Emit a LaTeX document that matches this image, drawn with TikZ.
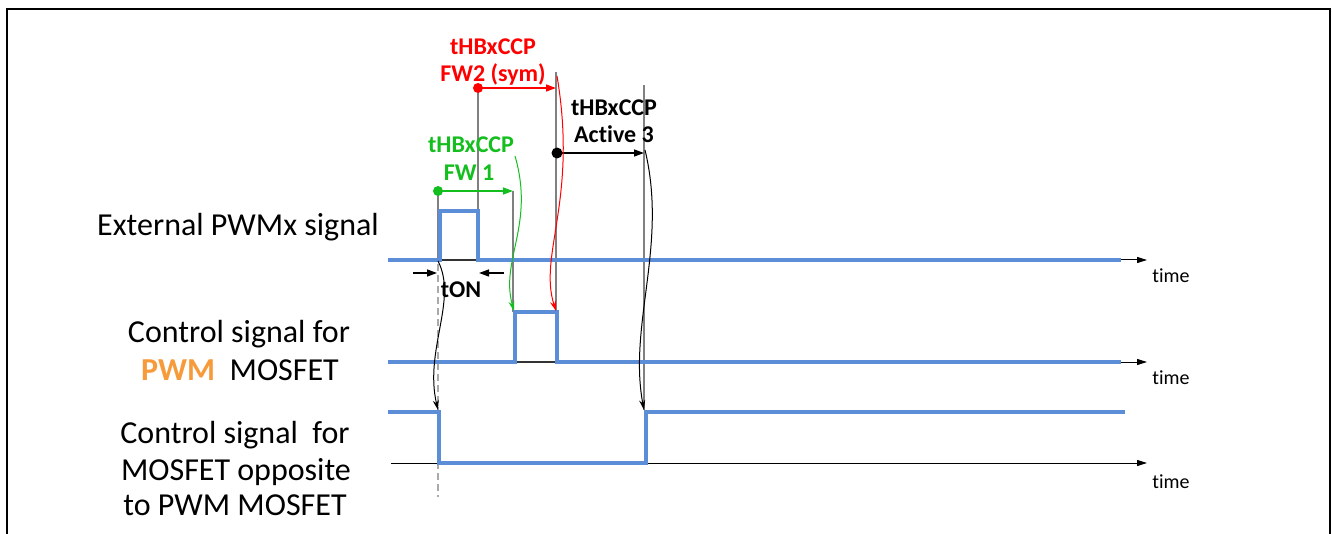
\documentclass[tikz,border=0pt]{standalone}
\usepackage{fontspec}
\setmainfont{Carlito}[Ligatures={NoCommon}]
\usetikzlibrary{arrows.meta}
\definecolor{sigblue}{RGB}{91,142,214}
\definecolor{pwmorange}{RGB}{247,154,58}
\definecolor{fwgreen}{RGB}{20,190,30}
\definecolor{fwred}{RGB}{255,0,0}
\definecolor{guide}{RGB}{128,128,128}
\definecolor{dashgray}{RGB}{170,170,170}
\tikzset{
  sig/.style={draw=sigblue, line width=4pt, line join=miter},
  axis/.style={color=black, line width=1pt, -{Triangle[length=10pt,width=6pt]}},
  thinaxis/.style={draw=black!80, line width=1.2pt},
  guideline/.style={draw=guide, line width=1.2pt},
  lbl/.style={anchor=base, inner sep=0pt, font=\fontsize{32}{37}\selectfont},
  tlbl/.style={anchor=base, inner sep=0pt, font=\fontsize{20}{24}\selectfont},
  blbl/.style={anchor=base, inner sep=0pt, font=\fontsize{24}{28}\selectfont\bfseries},
  dimarrow/.style={line width=1.3pt, -{Triangle[length=10pt,width=7pt]}},
  curvearrow/.style={line width=1pt, -{Stealth[length=10pt,width=6pt]}},
  dotnode/.style={circle, inner sep=0pt, minimum size=10pt},
}
\begin{document}
\begin{tikzpicture}[x=1pt,y=-1pt]
\useasboundingbox (0,0) rectangle (1332,534);
% frame
\draw[line width=1.3pt] (7,534) -- (7,9) -- (1330,9) -- (1330,534);

% left labels
\node[lbl] (ext) at (238,236) {External PWMx signal};
\node[lbl] (pwma) at (239,342) {Control signal for};
\node[lbl] (pwmb) at (240,380) {\textcolor{pwmorange}{\bfseries PWM}~ MOSFET};
\node[lbl] (oppa) at (235,443) {Control signal~ for};
\node[lbl] (oppb) at (236,480) {MOSFET opposite};
\node[lbl] (oppc) at (235,515) {to PWM MOSFET};

% coordinates
\coordinate (s1start) at (388,260);
\coordinate (s1rise) at (440,260);
\coordinate (s1fall) at (478,260);
\coordinate (s1end) at (1121,260);
\coordinate (s1arr) at (1147,260);
\coordinate (s2start) at (388,362);
\coordinate (s2rise) at (515,362);
\coordinate (s2fall) at (557,362);
\coordinate (s2end) at (1121,362);
\coordinate (s2arr) at (1147,362);
\coordinate (s3start) at (388,412);
\coordinate (s3fall) at (439,412);
\coordinate (s3rise) at (646,412);
\coordinate (s3end) at (1125,412);
\coordinate (ax3start) at (391,463);
\coordinate (ax3arr) at (1147,463);

% thin axis segments under pulses
\draw[thinaxis] (s1rise) -- (s1fall);
\draw[thinaxis] (s2rise) -- (s2fall);
% axes arrows
\draw[axis] (s1end) -- (s1arr);
\draw[axis] (s2end) -- (s2arr);
\draw[axis] (ax3start) -- (ax3arr);

% time labels
\node[tlbl] (t1) at (1171,283) {time};
\node[tlbl] (t2) at (1171,384) {time};
\node[tlbl] (t3) at (1171,488) {time};

% guide lines
\draw[guideline] (438,191) -- (438,260);
\draw[dashgray, line width=1.8pt, dash pattern=on 7pt off 4pt] (438,264) -- (438,497);
\draw[guideline] (478,88) -- (478,260);
\draw[guideline] (513,191) -- (513,312);
\draw[guideline] (556,72) -- (556,312);
\draw[guideline] (644,85) -- (644,410);

% signals
\draw[sig] (s1start) -- (s1rise) -- (440,211) -- (478,211) -- (s1fall) -- (s1end);
\draw[sig] (s2start) -- (s2rise) -- (515,312) -- (557,312) -- (s2fall) -- (s2end);
\draw[sig] (s3start) -- (s3fall) -- (439,463) -- (646,463) -- (s3rise) -- (s3end);

% top labels
\node[blbl, text=fwred] (rl1) at (493,55) {tHBxCCP};
\node[blbl, text=fwred] (rl2) at (493,82) {FW2 (sym)};
\node[blbl] (kl1) at (614,116) {tHBxCCP};
\node[blbl] (kl2) at (614,143) {Active 3};
\node[blbl, text=fwgreen] (gl1) at (471,153) {tHBxCCP};
\node[blbl, text=fwgreen] (gl2) at (469,181) {FW 1};
\node[blbl] (ton) at (461,298) {tON};

% dimension arrows with dots
\node[dotnode, fill=fwgreen] (gdot) at (438,191) {};
\coordinate (gend) at (513,191);
\draw[dimarrow, color=fwgreen] (gdot.center) -- (gend);
\node[dotnode, fill=fwred] (rdot) at (478,88) {};
\coordinate (rend) at (556,88);
\draw[dimarrow, color=fwred] (rdot.center) -- (rend);
\node[dotnode, fill=black, minimum size=11pt] (kdot) at (557,153) {};
\coordinate (kend) at (644,153);
\draw[dimarrow, color=black] (kdot.center) -- (kend);

% tON arrows
\coordinate (tonl0) at (413,273);
\coordinate (tonl1) at (437,273);
\coordinate (tonr0) at (504,273);
\coordinate (tonr1) at (479,273);
\draw[dimarrow, color=black] (tonl0) -- (tonl1);
\draw[dimarrow, color=black] (tonr0) -- (tonr1);

% curved arrows
\coordinate (gcs) at (515,156);
\coordinate (gce) at (514,311);
\draw[curvearrow, color=fwgreen] (gcs) .. controls (535,225) and (500,260) .. (gce);
\coordinate (rcs) at (557,76);
\coordinate (rce) at (556,311);
\draw[curvearrow, color=fwred] (rcs) .. controls (578,200) and (538,255) .. (rce);
\coordinate (kcs) at (645,150);
\coordinate (kce) at (644,410);
\draw[curvearrow, color=black] (kcs) .. controls (668,245) and (628,325) .. (kce);
\coordinate (lcs) at (438,261);
\coordinate (lce) at (438,410);
\draw[curvearrow, color=black] (lcs) .. controls (458,300) and (424,350) .. (lce);
\end{tikzpicture}
\end{document}
